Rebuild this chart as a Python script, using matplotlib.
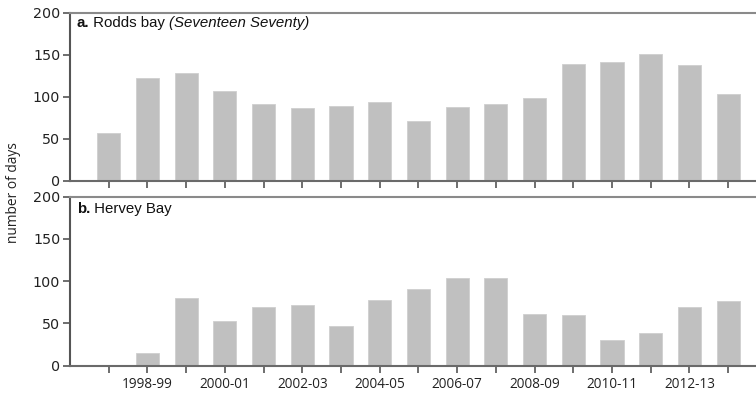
import matplotlib
matplotlib.use("Agg")
import matplotlib.pyplot as plt
import numpy as np

seasons = ["1997-98", "1998-99", "1999-00", "2000-01", "2001-02", "2002-03",
           "2003-04", "2004-05", "2005-06", "2006-07", "2007-08", "2008-09",
           "2009-10", "2010-11", "2011-12", "2012-13", "2013-14"]
rodds_bay = [57, 123, 129, 107, 92, 87, 89, 94, 71, 88, 92, 99, 139, 142, 151, 138, 103]
hervey_bay = [0, 15, 80, 53, 69, 72, 47, 78, 91, 104, 104, 61, 60, 31, 39, 69, 77]
labelled = ["1998-99", "2000-01", "2002-03", "2004-05", "2006-07", "2008-09",
            "2010-11", "2012-13"]
yticks = [0, 50, 100, 150, 200]

bar_color = "#c0c0c0"
spine_color = "#6a6a6a"

fig = plt.figure(figsize=(7.56, 3.94), dpi=100)
ax_a = fig.add_axes([70/756, 1-181/394, 1-70/756, (181-13)/394])
ax_b = fig.add_axes([70/756, 1-365.7/394, 1-70/756, (365.7-196.7)/394])

x = np.arange(len(seasons))
for ax, vals in ((ax_a, rodds_bay), (ax_b, hervey_bay)):
    ax.bar(x, vals, width=0.6, color=bar_color, edgecolor="#cfcfcf", linewidth=0.6)
    ax.set_xlim(-1, 16.72)
    ax.set_ylim(0, 200)
    ax.set_yticks(yticks)
    ax.set_xticks(x)
    ax.spines["right"].set_visible(False)
    ax.spines["left"].set_color("#555555")
    ax.spines["bottom"].set_color(spine_color)
    ax.spines["top"].set_color("#8a8a8a")
    for s in ("left", "bottom", "top"):
        ax.spines[s].set_linewidth(1.5)
    ax.tick_params(axis="y", direction="out", length=5, width=1.2, color="#555555",
                   labelsize=10.3, labelcolor="#222222", pad=2)
    ax.tick_params(axis="x", direction="out", length=5, width=1.2, color="#555555",
                   labelsize=9.8, labelcolor="#222222", pad=3)
    for lab in ax.get_yticklabels():
        lab.set_fontfamily("DejaVu Sans")

ax_a.set_xticklabels([])
ax_b.set_xticklabels([s if s in labelled else "" for s in seasons],
                     fontfamily="Open Sans")

fig.canvas.draw()
renderer = fig.canvas.get_renderer()


def title_parts(ax, parts, x0, y0):
    xpos = x0
    for txt, kw in parts:
        t = ax.text(xpos, y0, txt, transform=ax.transAxes, fontsize=10.8,
                    family="Liberation Sans", va="center", ha="left",
                    color="#111111", **kw)
        bb = t.get_window_extent(renderer=renderer)
        bb = bb.transformed(ax.transAxes.inverted())
        xpos = bb.x1


title_parts(ax_a, [("a.", {"fontweight": "bold"}), (" Rodds bay ", {}),
                   ("(Seventeen Seventy)", {"style": "italic"})], 0.010, 0.94)
title_parts(ax_b, [("b.", {"fontweight": "bold"}), (" Hervey Bay", {})], 0.010, 0.925)

fig.text(14/756, 1-193/394, "number of days", rotation=90, va="center", ha="center",
         fontsize=9.9, family="Open Sans", color="#222222")

fig.savefig("out.png", dpi=100)
